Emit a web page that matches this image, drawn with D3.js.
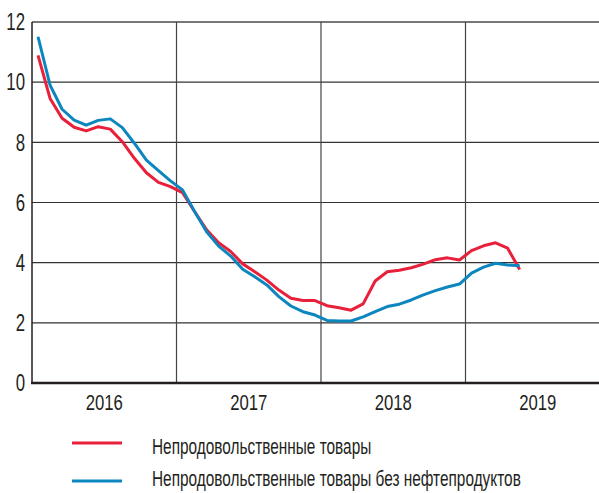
<!DOCTYPE html>
<html>
<head>
<meta charset="utf-8">
<script src="https://cdn.jsdelivr.net/npm/d3@7"></script>
<style>
  body { margin: 0; background: #fff; }
  svg text { font-family: "Liberation Sans", Arial, sans-serif; fill: #231f20; }
</style>
</head>
<body>
<div id="chart"></div>
<script>
// monthly points, Jan 2016 .. May 2019
var startYear = 2016;
var years = [2016, 2017, 2018, 2019];
var yTicks = [0, 2, 4, 6, 8, 10, 12];

var nonFood = [
  10.89, 9.46, 8.8, 8.5, 8.38, 8.52, 8.44, 8.02, 7.47, 6.99, 6.67, 6.53,
  6.33, 5.7, 5.09, 4.66, 4.37, 3.96, 3.7, 3.42, 3.09, 2.82, 2.74, 2.74,
  2.57, 2.5, 2.42, 2.63, 3.39, 3.7, 3.75, 3.83, 3.95, 4.1, 4.16, 4.09,
  4.4, 4.56, 4.66, 4.48, 3.77
];
var nonFoodExOil = [
  11.51, 9.9, 9.1, 8.74, 8.57, 8.73, 8.78, 8.49, 7.97, 7.41, 7.06, 6.72,
  6.42, 5.7, 5.03, 4.55, 4.22, 3.78, 3.53, 3.26, 2.87, 2.56, 2.37, 2.26,
  2.08, 2.06, 2.06, 2.2, 2.37, 2.54, 2.62, 2.76, 2.93, 3.07, 3.19, 3.29,
  3.65, 3.85, 3.98, 3.92, 3.9
];

var seriesNames = ["Непродовольственные товары", "Непродовольственные товары без нефтепродуктов"];
var seriesColors = ["#e8203a", "#0c86bf"];

var width = 599, height = 493;
var margin = { top: 22, left: 32, bottom: 110 };
var yearWidth = 144.5;

var svg = d3.select("#chart").append("svg")
    .attr("width", width)
    .attr("height", height);

var x = d3.scaleLinear()
    .domain([startYear, startYear + 4])
    .range([margin.left, margin.left + 4 * yearWidth]);

var y = d3.scaleLinear()
    .domain([0, 12])
    .range([height - margin.bottom, margin.top]);

// squeeze text horizontally around its anchor, the original uses a condensed face
function condense(sel, factor) {
    sel.each(function() {
        var t = d3.select(this);
        var tx = +t.attr("x") || 0, ty = +t.attr("y") || 0;
        t.attr("x", 0).attr("y", 0)
            .attr("transform", "translate(" + tx + "," + ty + ") scale(" + factor + ",1)");
    });
}

// horizontal grid
svg.selectAll("line.hgrid")
    .data(yTicks.filter(function(d) { return d > 0; }))
    .enter()
    .append("line")
    .attr("class", "hgrid")
    .attr("x1", margin.left)
    .attr("x2", width)
    .attr("y1", function(d) { return y(d); })
    .attr("y2", function(d) { return y(d); })
    .attr("stroke", function(d) { return d === 12 ? "#777" : "#333"; })
    .attr("stroke-width", function(d) { return d === 12 ? 2 : 1.2; });

// vertical year separators
svg.selectAll("line.vgrid")
    .data([2017, 2018, 2019])
    .enter()
    .append("line")
    .attr("class", "vgrid")
    .attr("x1", function(d) { return x(d); })
    .attr("x2", function(d) { return x(d); })
    .attr("y1", y(12))
    .attr("y2", y(0))
    .attr("stroke", "#444")
    .attr("stroke-width", 1.2);

// left axis line
svg.append("line")
    .attr("x1", margin.left).attr("x2", margin.left)
    .attr("y1", y(12)).attr("y2", y(0))
    .attr("stroke", "#231f20").attr("stroke-width", 1.5);

// y labels
svg.selectAll("text.ylab")
    .data(yTicks)
    .enter()
    .append("text")
    .attr("class", "ylab")
    .attr("x", 25)
    .attr("y", function(d) { return y(d); })
    .attr("dy", "0.36em")
    .attr("text-anchor", "end")
    .style("font-size", "23px")
    .text(function(d) { return d; })
    .call(condense, 0.73);

// x labels
svg.selectAll("text.xlab")
    .data(years)
    .enter()
    .append("text")
    .attr("class", "xlab")
    .attr("x", function(d) { return x(d + 0.5); })
    .attr("y", 410)
    .attr("text-anchor", "middle")
    .style("font-size", "22px")
    .text(function(d) { return d; })
    .call(condense, 0.76);

// lines
var line = d3.line()
    .x(function(d, i) { return x(startYear + (i + 0.5) / 12); })
    .y(function(d) { return y(d); });

[nonFood, nonFoodExOil].forEach(function(s, k) {
    svg.append("path")
        .datum(s)
        .attr("fill", "none")
        .attr("stroke", seriesColors[k])
        .attr("stroke-width", 3)
        .attr("stroke-linejoin", "round")
        .attr("d", line);
});

// bottom axis
svg.append("line")
    .attr("x1", margin.left - 1).attr("x2", width)
    .attr("y1", y(0)).attr("y2", y(0))
    .attr("stroke", "#231f20").attr("stroke-width", 2.5);

// legend
var legend = svg.selectAll("g.legend")
    .data(seriesNames)
    .enter()
    .append("g")
    .attr("class", "legend")
    .attr("transform", function(d, i) { return "translate(0," + (443 + i * 38) + ")"; });

legend.append("line")
    .attr("x1", 72).attr("x2", 122)
    .attr("stroke", function(d, i) { return seriesColors[i]; })
    .attr("stroke-width", 3);

legend.append("text")
    .attr("x", 152)
    .attr("y", function(d, i) { return i === 0 ? 11 : 5; })
    .style("font-size", "22px")
    .text(function(d) { return d; })
    .call(condense, 0.7);
</script>
</body>
</html>
